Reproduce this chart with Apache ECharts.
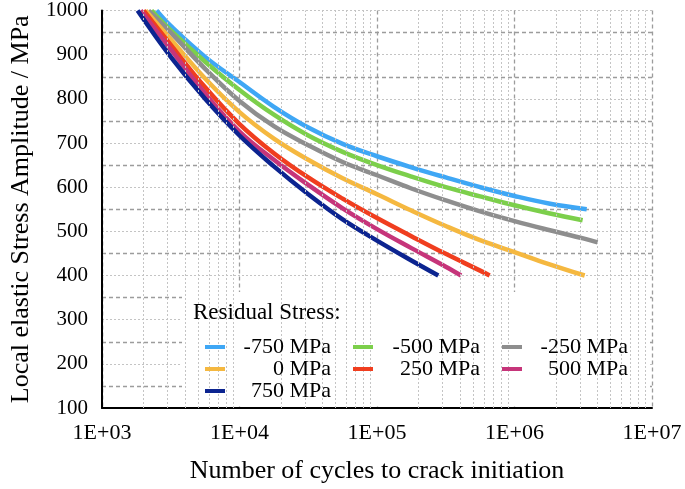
<!DOCTYPE html>
<html>
<head>
<meta charset="utf-8">
<script src="https://cdn.jsdelivr.net/npm/echarts@6/dist/echarts.min.js"></script>
<style>html,body{margin:0;padding:0;background:#fff}#c{width:685px;height:489px}</style>
</head>
<body>
<div id="c"></div>
<script>
// ---- data: [cycles N, local elastic stress amplitude MPa] ----
const seriesNames = ['-750 MPa', '-500 MPa', '-250 MPa', '0 MPa', '250 MPa', '500 MPa', '750 MPa'];
const rsMinus750 = [[2490,1000],[3162,965],[5623,895],[10000,838],[17783,782],[31623,735],[56234,698],[100000,670],[177828,645],[316228,622],[562341,600],[1000000,580],[1778279,563],[3350000,550]];
const rsMinus500 = [[2290,1000],[3162,955],[5623,884],[10000,820],[17783,764],[31623,717],[56234,680],[100000,650],[177828,624],[316228,600],[562341,579],[1000000,559],[1778279,541],[3130000,525]];
const rsMinus250 = [[2180,1000],[3162,950],[5623,868],[10000,795],[17783,738],[31623,695],[56234,657],[100000,627],[177828,597],[316228,570],[562341,545],[1000000,523],[1778279,503],[3162278,484],[4020000,475]];
const rsZero     = [[2075,1000],[3162,935],[5623,846],[10000,770],[17783,710],[31623,662],[56234,620],[100000,584],[177828,547],[316228,512],[562341,480],[1000000,453],[1778279,426],[3240000,400]];
const rsPlus250  = [[2005,1000],[3162,922],[5623,826],[10000,743],[17783,677],[31623,622],[56234,574],[100000,530],[177828,489],[316228,449],[562341,411],[660000,400]];
const rsPlus500  = [[1910,1000],[3162,912],[5623,812],[10000,726],[17783,662],[31623,605],[56234,552],[100000,505],[177828,462],[316228,420],[409000,400]];
const rsPlus750  = [[1815,1000],[3162,895],[5623,800],[10000,717],[17783,647],[31623,584],[56234,527],[100000,479],[177828,434],[279000,400]];
const seriesData = [rsMinus750, rsMinus500, rsMinus250, rsZero, rsPlus250, rsPlus500, rsPlus750];
const seriesColors = ['#3FA7F5', '#7CCF4B', '#8E8E8E', '#F5B840', '#F03E1F', '#C6357A', '#0C2490'];
const legendColumns = [['-750 MPa', '0 MPa', '750 MPa'], ['-500 MPa', '250 MPa'], ['-250 MPa', '500 MPa']];
const xTickValues = [1e3, 1e4, 1e5, 1e6, 1e7];
const yTickValues = [100, 200, 300, 400, 500, 600, 700, 800, 900, 1000];
const legendTitle = 'Residual Stress:';
const xTitle = 'Number of cycles to crack initiation';
const yTitle = 'Local elastic Stress Amplitude / MPa';

// minor log grid positions (2..9 x decade)
const minorX = [];
for (let d = 3; d < 7; d++) for (let k = 2; k <= 9; k++) minorX.push(k * Math.pow(10, d));

const FONT = 'Liberation Serif';
const chart = echarts.init(document.getElementById('c'), null, {renderer: 'canvas'});

const series = seriesNames.map((n, i) => ({
  name: n, type: 'line', data: seriesData[i], smooth: 0.4, showSymbol: false,
  lineStyle: {width: 4.5, color: seriesColors[i], cap: 'butt'}, itemStyle: {color: seriesColors[i]},
  z: 2, silent: true
}));
series.push({
  name: 'minorGrid', type: 'line', data: [], silent: true, z: 1,
  markLine: {silent: true, symbol: ['none', 'none'], label: {show: false},
    lineStyle: {type: [2, 2], color: '#c4c4c4', width: 1},
    animation: false,
    data: minorX.map(v => ({xAxis: v}))}
});

const legendLefts = [205, 353, 502];
const legendTextW = [101, 102, 101];
const legends = legendColumns.map((col, i) => ({
  data: col, orient: 'vertical', left: legendLefts[i], top: 336, padding: 0,
  itemWidth: 20, itemHeight: 4, itemGap: 0, icon: 'rect', selectedMode: false, z: 10,
  formatter: name => '{a|' + name + '}',
  textStyle: {color: '#000', fontFamily: FONT, fontSize: 22,
    rich: {a: {width: legendTextW[i], align: 'right', fontFamily: FONT, fontSize: 22, lineHeight: 23, color: '#000'}}}
}));

chart.setOption({
  animation: false,
  backgroundColor: '#fff',
  grid: {left: 96, right: 33, top: 10, bottom: 81},
  xAxis: {
    type: 'log', logBase: 10, min: xTickValues[0], max: xTickValues[xTickValues.length - 1],
    name: xTitle, nameLocation: 'middle', nameGap: 50,
    nameTextStyle: {fontFamily: FONT, fontSize: 26, color: '#000'},
    axisLine: {show: true, onZero: false, lineStyle: {color: '#000', width: 2}},
    axisTick: {show: false},
    axisLabel: {fontFamily: FONT, fontSize: 22, color: '#000', margin: 14,
      formatter: v => '1E+' + String(Math.round(Math.log10(v))).padStart(2, '0')},
    splitLine: {show: true, lineStyle: {type: [4, 3], color: '#9c9c9c', width: 1.3}}
  },
  yAxis: {
    type: 'value', min: yTickValues[0], max: yTickValues[yTickValues.length - 1], interval: 100,
    name: yTitle, nameLocation: 'middle', nameGap: 68,
    nameTextStyle: {fontFamily: FONT, fontSize: 26, color: '#000'},
    axisLine: {show: true, lineStyle: {color: '#000', width: 2}},
    axisTick: {show: false},
    axisLabel: {fontFamily: FONT, fontSize: 21, color: '#000', margin: 14, formatter: v => String(v)},
    splitLine: {show: true, lineStyle: {type: [2, 2], color: '#c4c4c4', width: 1}},
    minorTick: {show: false, splitNumber: 2},
    minorSplitLine: {show: true, lineStyle: {type: [4, 3], color: '#9c9c9c', width: 1.3}}
  },
  legend: legends,
  graphic: [
    {type: 'rect', z: 5, shape: {x: 182, y: 292, width: 468, height: 114}, style: {fill: '#fff'}, silent: true},
    {type: 'text', z: 11, x: 193, y: 313, style: {text: legendTitle, font: '23px "Liberation Serif"', fill: '#000', verticalAlign: 'middle'}}
  ],
  series: series
});
</script>
</body>
</html>
